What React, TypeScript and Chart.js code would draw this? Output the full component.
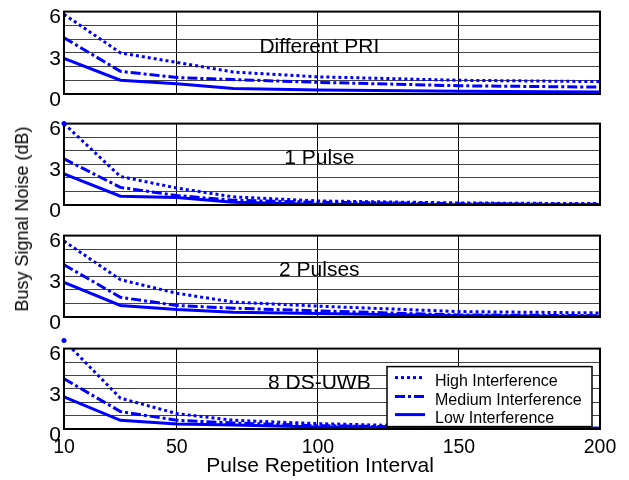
import React, { useEffect, useRef } from "react";
import { Chart, registerables } from "chart.js";

Chart.register(...registerables);

// ---------- data ----------
const X_VALUES = [10, 30, 50, 70, 100, 150, 200];
const X_TICKS = [10, 50, 100, 150, 200];
const Y_LABELS = [0, 3, 6];
const SERIES_NAMES = ["High Interference", "Medium Interference", "Low Interference"];
const PANEL_TITLES = ["Different PRI", "1 Pulse", "2 Pulses", "8 DS-UWB"];
const X_TITLE = "Pulse Repetition Interval";
const Y_TITLE = "Busy Signal Noise (dB)";

const HIGH_PRI = [5.8, 3.0, 2.3, 1.6, 1.25, 1.0, 0.9];
const MEDIUM_PRI = [4.1, 1.65, 1.2, 1.05, 0.85, 0.6, 0.5];
const LOW_PRI = [2.6, 1.0, 0.75, 0.4, 0.3, 0.2, 0.15];

const HIGH_1P = [6.0, 2.1, 1.25, 0.6, 0.3, 0.15, 0.1];
const MEDIUM_1P = [3.4, 1.3, 0.7, 0.35, 0.2, 0.1, 0.05];
const LOW_1P = [2.3, 0.65, 0.55, 0.2, 0.05, 0.02, 0.02];

const HIGH_2P = [5.6, 2.75, 1.75, 1.1, 0.8, 0.4, 0.3];
const MEDIUM_2P = [3.85, 1.45, 0.85, 0.65, 0.45, 0.15, 0.1];
const LOW_2P = [2.55, 0.85, 0.55, 0.35, 0.25, 0.1, 0.05];

const HIGH_DS = [6.6, 2.3, 1.15, 0.65, 0.4, 0.15, 0.05];
const MEDIUM_DS = [3.75, 1.3, 0.65, 0.45, 0.25, 0.1, 0.05];
const LOW_DS = [2.4, 0.65, 0.38, 0.3, 0.15, 0.05, 0.05];

const PANEL_SERIES = [
  [HIGH_PRI, MEDIUM_PRI, LOW_PRI],
  [HIGH_1P, MEDIUM_1P, LOW_1P],
  [HIGH_2P, MEDIUM_2P, LOW_2P],
  [HIGH_DS, MEDIUM_DS, LOW_DS],
];
const FIRST_POINT_MARKER = [false, true, false, true];

// ---------- styles ----------
const FONT = "'Liberation Sans', Arial, Helvetica, sans-serif";
const BLUE = "#0000ff";
const DASHES = [[3, 3], [10, 3, 3, 3], []];
const W = 629;
const H = 480;
const AREA_LEFT = 64;
const AREA_RIGHT = 600;
const PANEL_TOPS = [8, 120, 232, 345];
const PANEL_HEIGHTS = [86, 85, 85, 84];
const PAD_TOP = 12;
const PAD_BOTTOM = 18;

function Panel({ index }: { index: number }) {
  const ref = useRef<HTMLCanvasElement | null>(null);
  const isBottom = index === 3;
  const areaTop = PANEL_TOPS[index];
  const areaH = PANEL_HEIGHTS[index];
  const canvasTop = areaTop - PAD_TOP;
  const canvasH = isBottom ? H - canvasTop : PAD_TOP + areaH + PAD_BOTTOM;

  useEffect(() => {
    if (!ref.current) return;
    const series = PANEL_SERIES[index];
    const datasets: any[] = series.map((vals, i) => ({
      label: SERIES_NAMES[i],
      data: X_VALUES.map((x, k) => ({ x, y: vals[k] })),
      borderColor: BLUE,
      backgroundColor: BLUE,
      borderWidth: 3,
      borderDash: DASHES[i],
      borderCapStyle: "butt",
      pointRadius: 0,
      tension: 0,
      fill: false,
    }));

    const panelPlugin = {
      id: "panelDecor" + index,
      beforeDatasetsDraw(chart: any) {
        const { ctx, scales } = chart;
        ctx.save();
        ctx.font = `21px ${FONT}`;
        ctx.fillStyle = "#000";
        ctx.textAlign = "center";
        ctx.textBaseline = "alphabetic";
        ctx.fillText(PANEL_TITLES[index], scales.x.getPixelForValue(100.5), scales.y.getPixelForValue(3));
        ctx.restore();
      },
      afterDatasetsDraw(chart: any) {
        const { ctx, chartArea, scales } = chart;
        ctx.save();
        ctx.strokeStyle = "#000";
        ctx.lineWidth = 2;
        ctx.strokeRect(chartArea.left, chartArea.top, chartArea.right - chartArea.left, chartArea.bottom - chartArea.top);
        ctx.restore();
        if (FIRST_POINT_MARKER[index]) {
          ctx.save();
          ctx.fillStyle = BLUE;
          ctx.beginPath();
          ctx.arc(
            scales.x.getPixelForValue(X_VALUES[0]),
            scales.y.getPixelForValue(series[0][0]),
            2.5,
            0,
            Math.PI * 2
          );
          ctx.fill();
          ctx.restore();
        }
        if (isBottom) {
          const ox = chartArea.left;
          const oy = chartArea.top;
          ctx.save();
          // x-axis title, centred under the 100 tick like the reference
          ctx.fillStyle = "#000";
          ctx.font = `21px ${FONT}`;
          ctx.textAlign = "center";
          ctx.textBaseline = "middle";
          ctx.fillText(X_TITLE, scales.x.getPixelForValue(100.8), chartArea.bottom + 37);

          const bx = ox + 323;
          const by = oy + 18;
          const bw = 205;
          const bh = 60;
          ctx.fillStyle = "#fff";
          ctx.fillRect(bx, by, bw, bh);
          ctx.strokeStyle = "#000";
          ctx.lineWidth = 1.5;
          ctx.strokeRect(bx, by, bw, bh);
          const sampleY = [11, 30, 48];
          const textY = [19, 38.5, 56];
          for (let i = 0; i < 3; i++) {
            ctx.strokeStyle = BLUE;
            ctx.lineWidth = 3;
            ctx.setLineDash(DASHES[i]);
            ctx.beginPath();
            ctx.moveTo(bx + 8, by + sampleY[i]);
            ctx.lineTo(bx + 38, by + sampleY[i]);
            ctx.stroke();
            ctx.setLineDash([]);
            ctx.fillStyle = "#000";
            ctx.font = `16px ${FONT}`;
            ctx.textAlign = "left";
            ctx.textBaseline = "alphabetic";
            ctx.fillText(SERIES_NAMES[i], bx + 48, by + textY[i]);
          }
          ctx.restore();
        }
      },
    };

    const chart = new Chart(ref.current, {
      type: "line",
      data: { datasets },
      plugins: [panelPlugin],
      options: {
        animation: false,
        responsive: false,
        devicePixelRatio: 1,
        parsing: false as any,
        layout: {
          padding: {
            top: PAD_TOP,
            left: 0,
            right: W - AREA_RIGHT,
            bottom: isBottom ? 2 : PAD_BOTTOM,
          },
        },
        plugins: {
          legend: { display: false },
          tooltip: { enabled: false },
        },
        scales: {
          x: {
            type: "linear",
            min: 10,
            max: 200,
            afterBuildTicks: (s: any) => {
              s.ticks = X_TICKS.map((v) => ({ value: v }));
            },
            afterFit: (s: any) => {
              s.height = isBottom ? H - 2 - (areaTop + areaH) : 0;
            },
            grid: { color: "#000", lineWidth: 1, drawTicks: false },
            border: { display: false },
            ticks: {
              display: isBottom,
              padding: 7,
              autoSkip: false,
              maxRotation: 0,
              color: "#000",
              font: { family: FONT, size: 19.5 },
              callback: (v: any) => String(v),
            },
            title: { display: false },
          },
          y: {
            min: 0,
            max: 6,
            afterFit: (s: any) => {
              s.width = AREA_LEFT;
            },
            grid: { color: "#444", lineWidth: 1, drawTicks: false },
            border: { display: false },
            ticks: {
              stepSize: 1,
              autoSkip: false,
              padding: 3,
              labelOffset: 6,
              color: "#000",
              font: { family: FONT, size: 21 },
              callback: (v: any) => (Y_LABELS.includes(Number(v)) ? String(v) : ""),
            },
          },
        },
      } as any,
    });
    return () => chart.destroy();
  }, [index]);

  return (
    <canvas
      ref={ref}
      width={W}
      height={canvasH}
      style={{ position: "absolute", left: 0, top: canvasTop, width: W, height: canvasH }}
    />
  );
}

export default function App() {
  return (
    <div style={{ position: "absolute", left: 0, top: 0, width: W, height: H, background: "#fff", overflow: "hidden" }}>
      {[0, 1, 2, 3].map((i) => (
        <Panel key={i} index={i} />
      ))}
      <div
        style={{
          position: "absolute",
          left: 22,
          top: 219,
          transform: "translate(-50%, -50%) rotate(-90deg)",
          whiteSpace: "nowrap",
          fontFamily: FONT,
          fontSize: 18,
          lineHeight: 1,
          color: "#000",
        }}
      >
        {Y_TITLE}
      </div>
    </div>
  );
}
